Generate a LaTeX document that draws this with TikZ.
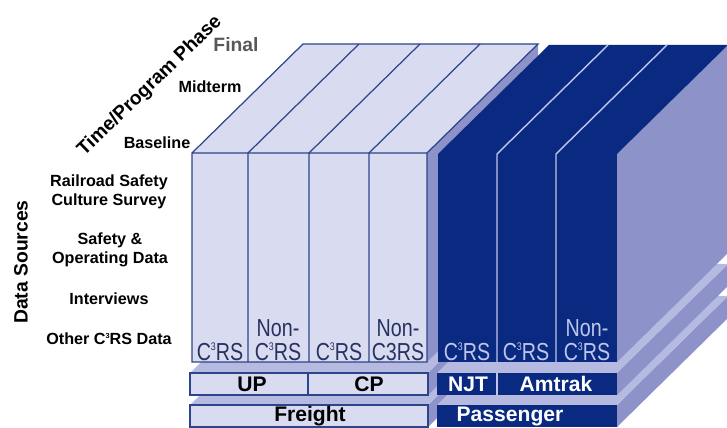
\documentclass[tikz,border=0pt]{standalone}
\usepackage{fontspec}
\setmainfont{Liberation Sans}
\newfontfamily\narrowfont[FakeStretch=0.8]{Liberation Sans}
\usetikzlibrary{calc}

\definecolor{lightface}{RGB}{217,220,240}
\definecolor{midface}{RGB}{141,146,200}
\definecolor{shelf}{RGB}{182,186,224}
\definecolor{navy}{RGB}{10,42,130}
\definecolor{edgeblue}{RGB}{45,68,138}
\definecolor{divlight}{RGB}{190,198,235}
\definecolor{labelgray}{RGB}{88,88,88}
\definecolor{coltext}{RGB}{40,50,96}

% diepte van de blokken (pixels naar rechtsboven)
\def\depthx{111}
\def\depthy{-109}

% kleine superscript 3
\newcommand{\cthree}{C\raisebox{0.75ex}{\scalebox{0.45}{3}}RS}

% blok: #1,#2 links/rechts, #3,#4 boven/onder, #5 voorkant, #6 bovenkant, #7 zijkant
\newcommand{\prism}[7]{%
  \fill[#7] (#2,#3) -- ++(\depthx,\depthy) -- ++(0,{#4-#3}) -- (#2,#4) -- cycle;
  \fill[#6] (#1,#3) -- ++(\depthx,\depthy) -- ++({#2-#1},0) -- (#2,#3) -- cycle;
  \fill[#5] (#1,#3) rectangle (#2,#4);
}

\begin{document}
\begin{tikzpicture}[x=0.02cm, y=-0.02cm,
    rowlabel/.style={font=\bfseries\fontsize{9.2}{10.6}\selectfont, align=center, inner sep=0pt},
    axislabel/.style={font=\bfseries\fontsize{11}{13}\selectfont, inner sep=0pt},
    collabel/.style={font=\narrowfont\fontsize{14}{13.6}\selectfont, align=center, anchor=south, inner sep=0pt},
    bandlabel/.style={font=\bfseries\fontsize{12}{14}\selectfont, anchor=base, inner sep=0pt},
    edge/.style={draw=edgeblue, line width=0.7pt},
    divider/.style={draw=divlight, line width=0.8pt}]
  \useasboundingbox (0,0) rectangle (727,428);
  \clip (0,0) rectangle (727,428);

  % Freight
  \prism{190}{428}{405}{427}{lightface}{shelf}{midface}
  \prism{190}{428}{373}{395}{lightface}{shelf}{midface}
  \prism{192}{427}{153}{362}{lightface}{lightface}{midface}
  \draw[edge] (190,405) rectangle (428,427);
  \draw[edge] (190,373) rectangle (428,395) (308,373) -- (308,395);
  \draw[edge] (192,362) rectangle (427,153) -- ++(\depthx,\depthy) -- ++(-235,0) -- (192,153);
  \foreach \x in {248,309,369}
    \draw[edge] (\x,362) -- (\x,153) -- ++(\depthx,\depthy);

  % Passenger
  \prism{437}{617}{405}{427}{navy}{shelf}{midface}
  \prism{437}{617}{373}{395}{navy}{shelf}{midface}
  \prism{438}{617}{154}{362}{navy}{navy}{midface}
  \draw[divider] (497,373) -- (497,395);
  \foreach \x in {497,556}
    \draw[divider] (\x,362) -- (\x,154) -- ++(\depthx,\depthy);

  % Assen
  \node[axislabel, rotate=44] (phase) at (150,86) {Time/Program Phase};
  \node[axislabel, rotate=90] (sources) at (21,262) {Data Sources};
  \node[axislabel, text=labelgray] (final) at (236,45) {Final};
  \node[rowlabel] (midterm) at (210,87) {Midterm};
  \node[rowlabel] (baseline) at (157,143) {Baseline};

  % Databronnen
  \node[rowlabel] (survey) at (109,192) {Railroad Safety\\Culture Survey};
  \node[rowlabel] (operating) at (110,250) {Safety \&\\Operating Data};
  \node[rowlabel] (interviews) at (109,299) {Interviews};
  \node[rowlabel] (other) at (109,339) {Other \cthree{} Data};

  % Kolommen
  \node[collabel, text=coltext] (upc) at (220,361) {\cthree};
  \node[collabel, text=coltext] (upn) at (278,361) {Non-\\\cthree};
  \node[collabel, text=coltext] (cpc) at (339,361) {\cthree};
  \node[collabel, text=coltext] (cpn) at (398,361) {Non-\\C3RS};
  \node[collabel, text=divlight] (njtc) at (467,361) {\cthree};
  \node[collabel, text=divlight] (amc) at (526,361) {\cthree};
  \node[collabel, text=divlight] (amn) at (587,361) {Non-\\\cthree};

  % Banden
  \node[bandlabel] (up) at (252,392) {UP};
  \node[bandlabel] (cp) at (369,392) {CP};
  \node[bandlabel] (freight) at (310,422) {Freight};
  \node[bandlabel, text=white] (njt) at (468,392) {NJT};
  \node[bandlabel, text=white] (amtrak) at (556,392) {Amtrak};
  \node[bandlabel, text=white] (passenger) at (510,422) {Passenger};
\end{tikzpicture}
\end{document}
